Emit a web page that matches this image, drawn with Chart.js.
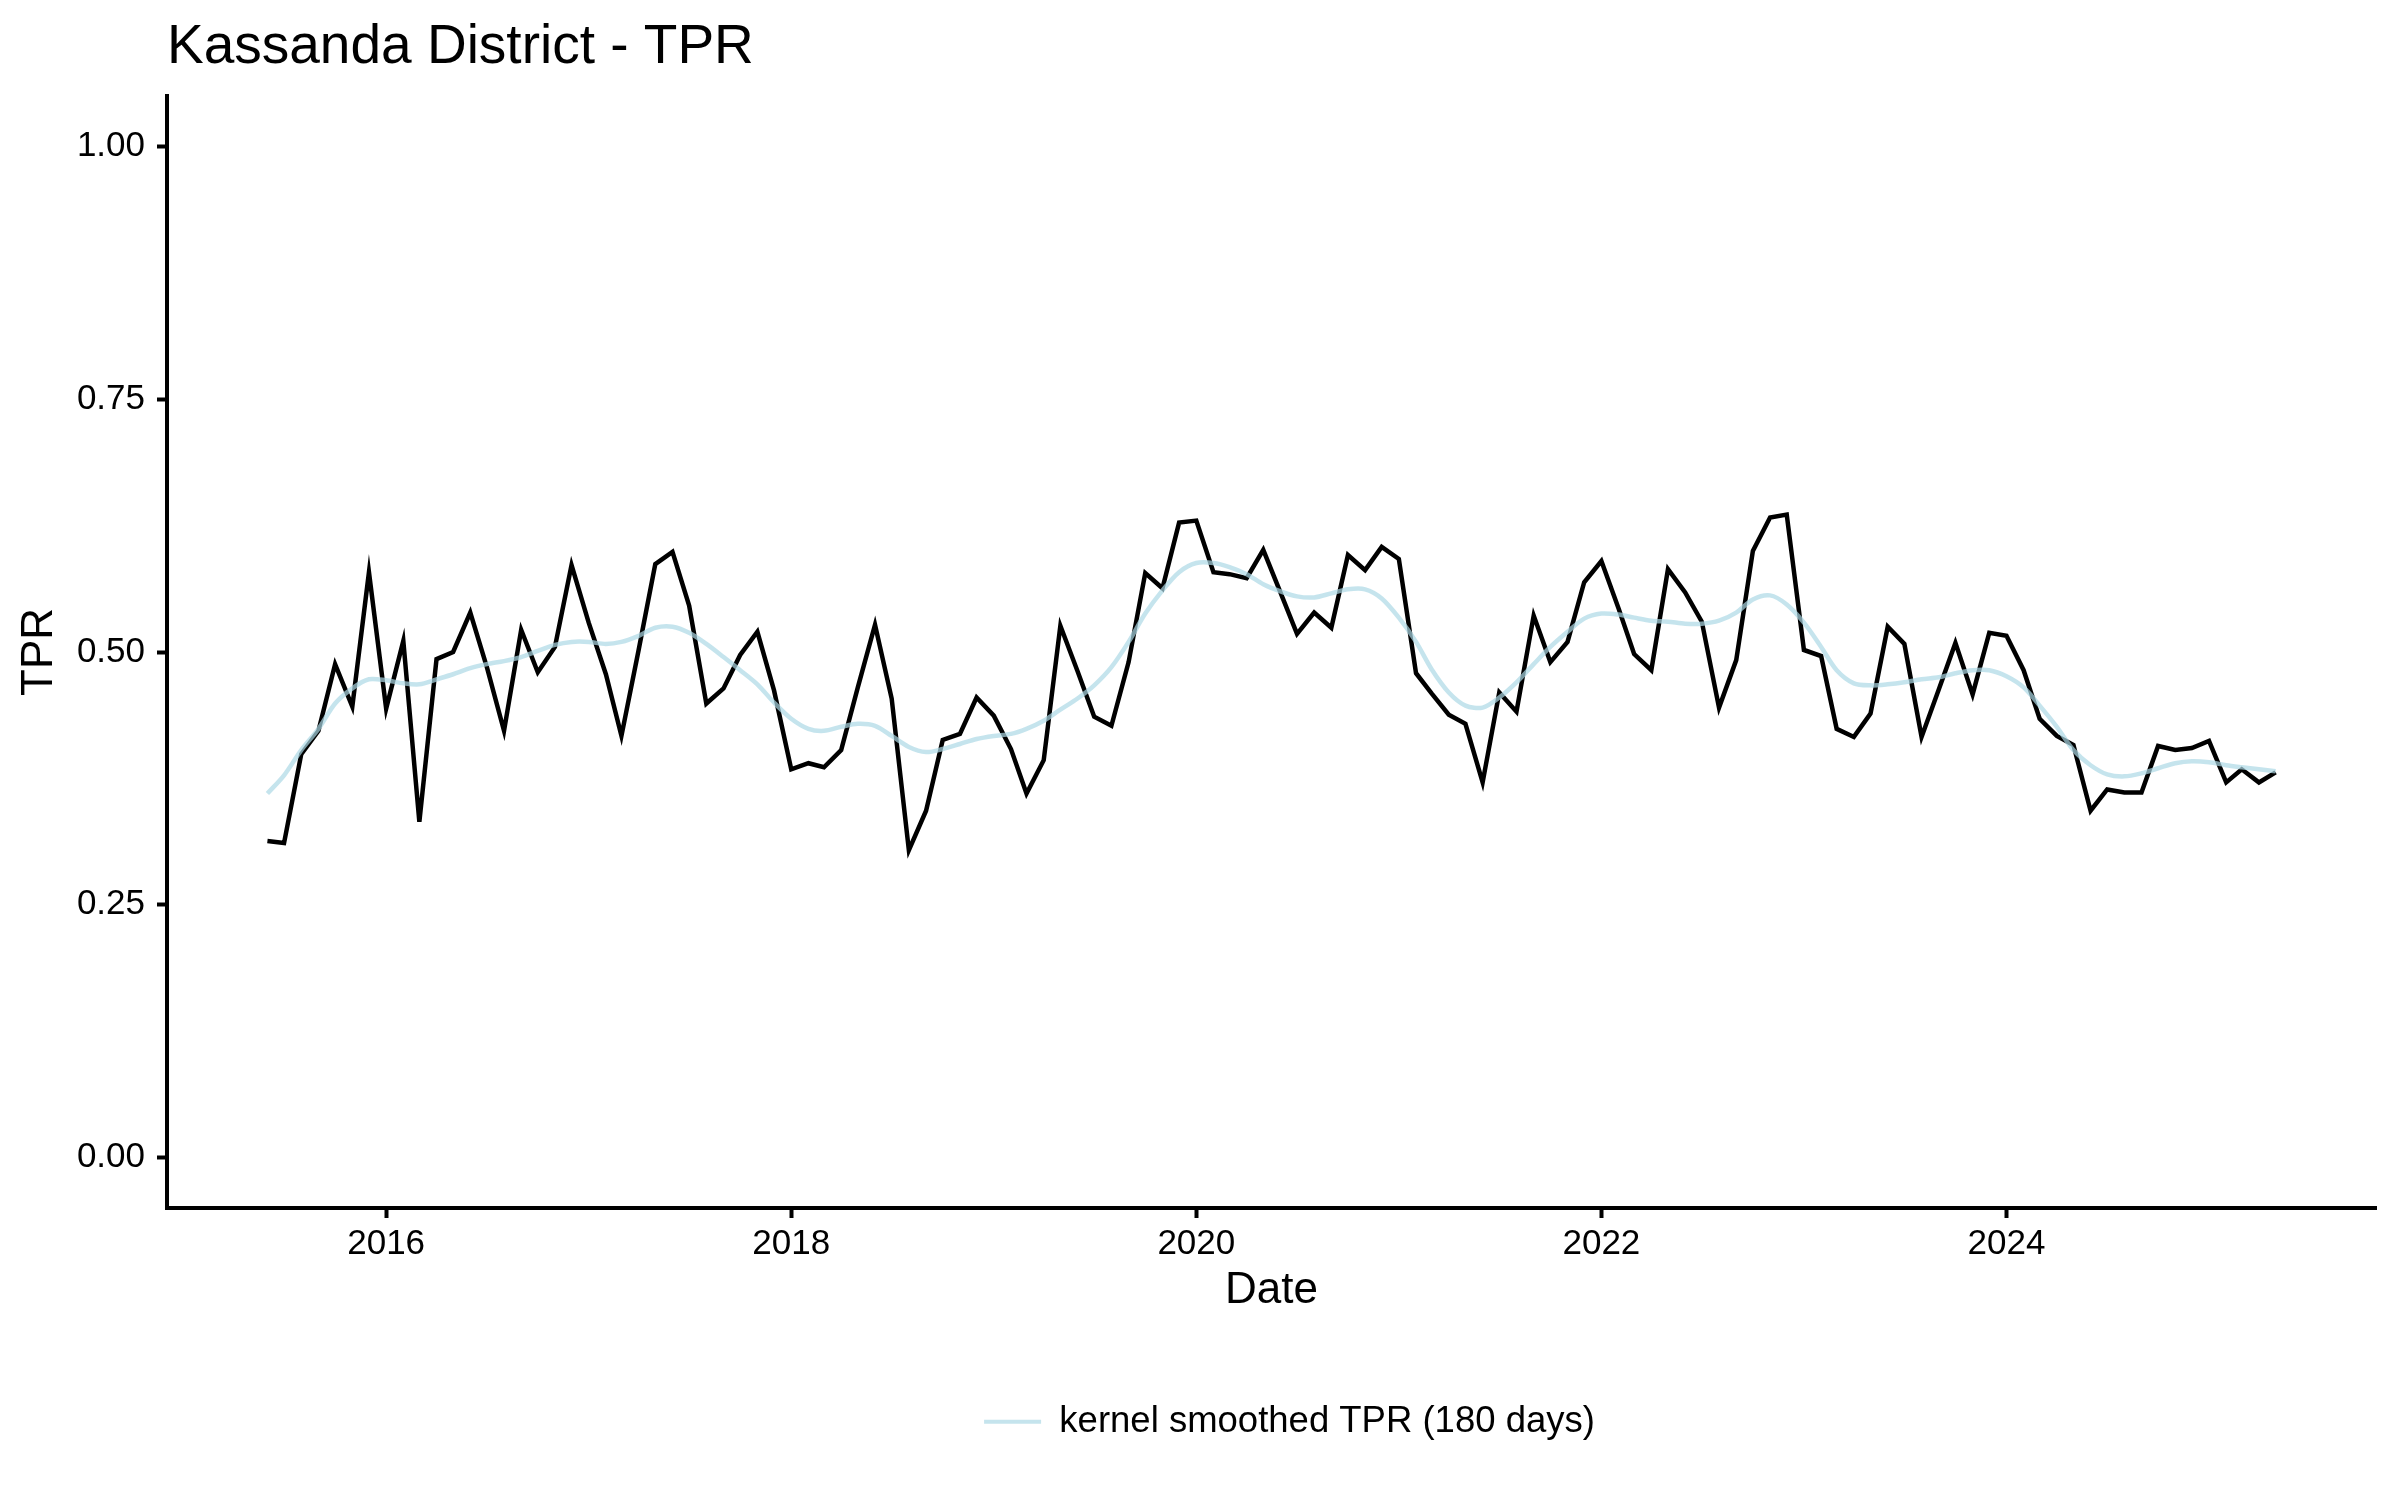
<!DOCTYPE html>
<html>
<head>
<meta charset="utf-8">
<title>Kassanda District - TPR</title>
<script src="https://cdn.jsdelivr.net/npm/chart.js@4.4.1/dist/chart.umd.min.js"></script>
<style>
    body { margin: 0; background: #fff; }
    canvas { display: block; }
</style>
</head>
<body>
<canvas id="tprChart" width="2400" height="1500"></canvas>
<script>
// monthly values, first month is June 2015
const startYear = 2015;
const startMonth = 5; // 0-based, June

const tpr = [
    0.313, 0.311, 0.399, 0.422, 0.488, 0.446, 0.579, 0.444, 0.511, 0.332,
    0.493, 0.500, 0.539, 0.485, 0.422, 0.522, 0.480, 0.505, 0.586, 0.529,
    0.478, 0.417, 0.502, 0.587, 0.599, 0.546, 0.449, 0.464, 0.497, 0.520,
    0.462, 0.384, 0.390, 0.386, 0.403, 0.465, 0.527, 0.454, 0.304, 0.343,
    0.413, 0.419, 0.455, 0.437, 0.404, 0.360, 0.393, 0.526, 0.481, 0.436,
    0.427, 0.490, 0.578, 0.563, 0.628, 0.630, 0.579, 0.577, 0.573, 0.601,
    0.559, 0.518, 0.539, 0.524, 0.596, 0.581, 0.604, 0.592, 0.479, 0.459,
    0.438, 0.429, 0.371, 0.460, 0.441, 0.536, 0.490, 0.510, 0.569, 0.590,
    0.543, 0.498, 0.482, 0.582, 0.559, 0.530, 0.445, 0.492, 0.600, 0.633,
    0.636, 0.502, 0.496, 0.424, 0.416, 0.439, 0.525, 0.508, 0.416, 0.463,
    0.509, 0.458, 0.519, 0.516, 0.482, 0.434, 0.417, 0.408, 0.343, 0.364,
    0.361, 0.361, 0.407, 0.403, 0.405, 0.412, 0.371, 0.384, 0.371, 0.381
];

const tprSmoothed = [
    0.360, 0.378, 0.403, 0.424, 0.449, 0.464, 0.473, 0.472, 0.469, 0.468,
    0.473, 0.478, 0.484, 0.488, 0.491, 0.495, 0.501, 0.507, 0.510, 0.510,
    0.508, 0.510, 0.516, 0.524, 0.525, 0.519, 0.508, 0.495, 0.482, 0.468,
    0.450, 0.434, 0.424, 0.422, 0.426, 0.429, 0.427, 0.417, 0.406, 0.401,
    0.404, 0.409, 0.414, 0.417, 0.419, 0.424, 0.432, 0.443, 0.454, 0.467,
    0.485, 0.510, 0.538, 0.561, 0.579, 0.588, 0.588, 0.584, 0.577, 0.567,
    0.560, 0.555, 0.554, 0.558, 0.562, 0.562, 0.553, 0.534, 0.510, 0.483,
    0.460, 0.447, 0.445, 0.455, 0.470, 0.488, 0.505, 0.520, 0.533, 0.538,
    0.537, 0.534, 0.531, 0.530, 0.528, 0.528, 0.531, 0.539, 0.552, 0.556,
    0.547, 0.529, 0.505, 0.482, 0.469, 0.467, 0.468, 0.470, 0.473, 0.475,
    0.479, 0.482, 0.482, 0.476, 0.465, 0.447, 0.426, 0.403, 0.388, 0.379,
    0.377, 0.380, 0.385, 0.390, 0.392, 0.391, 0.388, 0.386, 0.384, 0.382
];

const yearTicks = [2016, 2018, 2020, 2022, 2024];
const valueTicks = [0, 0.25, 0.5, 0.75, 1];

// date of each month as a decimal year
function monthToYear(i) {
    const y = startYear + Math.floor((startMonth + i) / 12);
    const m = (startMonth + i) % 12;
    const t0 = Date.UTC(y, 0, 1);
    const t1 = Date.UTC(y + 1, 0, 1);
    return y + (Date.UTC(y, m, 1) - t0) / (t1 - t0);
}

const dates = tpr.map((v, i) => monthToYear(i));

const smoothColor = 'rgba(173, 216, 230, 0.7)';
const fontFamily = '"Liberation Sans", Arial, Helvetica, sans-serif';

// x range is the data range with 5% padding on each side
const xSpan = dates[dates.length - 1] - dates[0];
const xMin = dates[0] - 0.05 * xSpan;
const xMax = dates[dates.length - 1] + 0.05 * xSpan;

// nudge the legend a little to the right, like the original
const legendShift = {
    id: 'legendShift',
    afterLayout: function(chart) {
        if (chart.legend) {
            chart.legend.left += 18;
            chart.legend.right += 18;
        }
    }
};

var ctx = document.getElementById('tprChart').getContext('2d');
var chart = new Chart(ctx, {
    type: 'line',
    data: {
        datasets: [{
            label: 'TPR',
            data: dates.map((d, i) => ({ x: d, y: tpr[i] })),
            borderColor: '#000000',
            borderWidth: 4.5,
            pointRadius: 0,
            tension: 0,
            order: 1
        }, {
            label: 'kernel smoothed TPR (180 days)',
            data: dates.map((d, i) => ({ x: d, y: tprSmoothed[i] })),
            borderColor: smoothColor,
            backgroundColor: smoothColor,
            borderWidth: 4.5,
            pointRadius: 0,
            tension: 0.3,
            order: 0
        }]
    },
    plugins: [legendShift],
    options: {
        responsive: false,
        animation: false,
        devicePixelRatio: 1,
        layout: {
            padding: { left: 0, right: 24, top: 0, bottom: 50 }
        },
        plugins: {
            title: {
                display: true,
                text: 'Kassanda District - TPR',
                align: 'start',
                fullSize: false,
                color: '#000000',
                font: { family: fontFamily, size: 55, weight: 'normal' },
                padding: { top: 15, bottom: 15 }
            },
            legend: {
                display: true,
                position: 'bottom',
                fullSize: false,
                labels: {
                    color: '#000000',
                    font: { family: fontFamily, size: 36.5 },
                    boxWidth: 57,
                    boxHeight: 4,
                    padding: 10,
                    generateLabels: function(chart) {
                        const items = Chart.defaults.plugins.legend.labels.generateLabels(chart);
                        return items.filter(item => item.datasetIndex === 1).map(item => {
                            item.lineWidth = 0;
                            item.fillStyle = smoothColor;
                            return item;
                        });
                    }
                }
            },
            tooltip: { enabled: false }
        },
        scales: {
            x: {
                type: 'linear',
                min: xMin,
                max: xMax,
                afterBuildTicks: function(scale) {
                    scale.ticks = yearTicks.map(v => ({ value: v }));
                },
                afterFit: function(scale) {
                    scale.height = 185.5;
                },
                ticks: {
                    color: '#000000',
                    font: { family: fontFamily, size: 35 },
                    padding: 5,
                    maxRotation: 0,
                    autoSkip: false,
                    callback: function(value) {
                        return String(value);
                    }
                },
                grid: {
                    display: true,
                    drawOnChartArea: false,
                    drawTicks: true,
                    tickLength: 10,
                    tickWidth: 4,
                    tickColor: '#000000'
                },
                border: { display: true, color: '#000000', width: 4 },
                title: {
                    display: true,
                    text: 'Date',
                    color: '#000000',
                    font: { family: fontFamily, size: 44 },
                    padding: { top: 0, bottom: 76 }
                }
            },
            y: {
                min: -0.05,
                max: 1.05,
                afterBuildTicks: function(scale) {
                    scale.ticks = valueTicks.map(v => ({ value: v }));
                },
                afterFit: function(scale) {
                    scale.width = 167;
                },
                ticks: {
                    color: '#000000',
                    font: { family: fontFamily, size: 35 },
                    padding: 12,
                    autoSkip: false,
                    callback: function(value) {
                        return value.toFixed(2);
                    }
                },
                grid: {
                    display: true,
                    drawOnChartArea: false,
                    drawTicks: true,
                    tickLength: 10,
                    tickWidth: 4,
                    tickColor: '#000000'
                },
                border: { display: true, color: '#000000', width: 4 },
                title: {
                    display: true,
                    text: 'TPR',
                    color: '#000000',
                    font: { family: fontFamily, size: 44 },
                    padding: { top: 13, bottom: 0 }
                }
            }
        }
    }
});
</script>
</body>
</html>
